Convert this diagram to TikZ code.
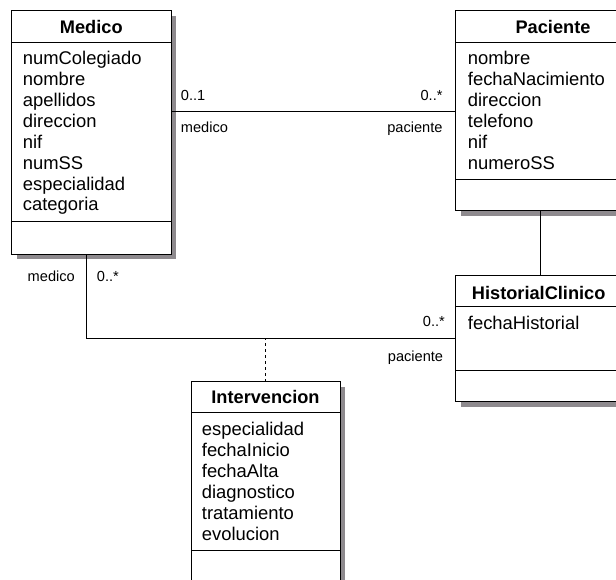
\documentclass[tikz,border=0pt]{standalone}
\usepackage{fontspec}
\setmainfont{Liberation Sans}
\usetikzlibrary{shadows}
\definecolor{shadowGray}{HTML}{8E8A8E}
\begin{document}
\begin{tikzpicture}
[x=1pt,y=-1pt,
 classDecorate/.style={draw,line width=1pt,inner sep=0pt,outer sep=0pt,fill=white,
   drop shadow={shadow xshift=5pt,shadow yshift=-5pt,fill=shadowGray,opacity=1}},
 lineDecorate/.style={-,line width=1pt},
 titleDecorate/.style={inner sep=0pt,font=\fontsize{18.2}{21}\selectfont\bfseries},
 attrDecorate/.style={anchor=base west,inner sep=0pt,font=\fontsize{18.4}{21}\selectfont},
 roleDecorate/.style={inner sep=0pt,font=\fontsize{14.6}{17}\selectfont}]
\useasboundingbox (0,0) rectangle (616,580);
\clip (0,0) rectangle (616,580);
%% class boxes
\foreach \nodename/\x/\y/\w/\h in {
  medico/91.25/132.6/159.5/243.8, paciente/552.85/110.7/194.3/200,
  historial/538.7/338.5/166/126.4, intervencion/265.5/501.7/149/240}
{
  \node (\nodename) at (\x,\y) [classDecorate,minimum width=\w pt,minimum height=\h pt] {};
}
%% compartments
\foreach \boxname/\y in {
  medico/42.7, medico/221.7, paciente/42.7, paciente/179.3,
  historial/306, historial/370, intervencion/412.3, intervencion/550.7}
{
  \draw [lineDecorate] (\boxname.west |- 0,\y) -- (\boxname.east |- 0,\y);
}
%% class names
\foreach \nodename/\nodelabel/\x/\y in {
  medicoTitle/Medico/91.3/27, pacienteTitle/Paciente/553/27,
  historialTitle/HistorialClinico/538.7/292.7, intervencionTitle/Intervencion/265.5/396.5}
{
  \node (\nodename) at (\x,\y) [titleDecorate] {\nodelabel};
}
%% attributes
\foreach \attrlabel [count=\i] in {numColegiado, nombre, apellidos, direccion, nif,
  numSS, especialidad, categoria}
  \node (medicoAttr\i) at (22.7,{65+20.85*(\i-1)}) [attrDecorate] {\attrlabel};
\foreach \attrlabel [count=\i] in {nombre, fechaNacimiento, direccion, telefono, nif,
  numeroSS}
  \node (pacienteAttr\i) at (467.7,{65+20.85*(\i-1)}) [attrDecorate] {\attrlabel};
\node (historialAttr1) at (467.7,329.7) [attrDecorate] {fechaHistorial};
\foreach \attrlabel [count=\i] in {especialidad, fechaInicio, fechaAlta, diagnostico,
  tratamiento, evolucion}
  \node (intervencionAttr\i) at (201.7,{435.3+21*(\i-1)}) [attrDecorate] {\attrlabel};
%% roles and multiplicities
\foreach \nodename/\nodelabel/\x/\y/\where in {
  multA/0..1/180.7/100.3/base west, roleA/medico/180.7/132.3/base west,
  multB/0..*/442.7/100.3/base east, roleB/paciente/442.7/132.3/base east,
  roleC/medico/75/281.5/base east, multC/0..*/96.7/281.5/base west,
  multD/0..*/445/326.5/base east, roleD/paciente/443.3/361/base east}
{
  \node (\nodename) at (\x,\y) [roleDecorate,anchor=\where] {\nodelabel};
}
%% associations
\draw [lineDecorate] (medico.east |- 0,111.7) -- (paciente.west |- 0,111.7);
\draw [lineDecorate] (paciente.south -| 540.7,0) -- (historial.north -| 540.7,0);
\draw [lineDecorate] (medico.south -| 86,0) |- (historial.west);
\draw [lineDecorate,dashed] (intervencion.north) -- (intervencion.north |- historial.west);
\end{tikzpicture}
\end{document}
